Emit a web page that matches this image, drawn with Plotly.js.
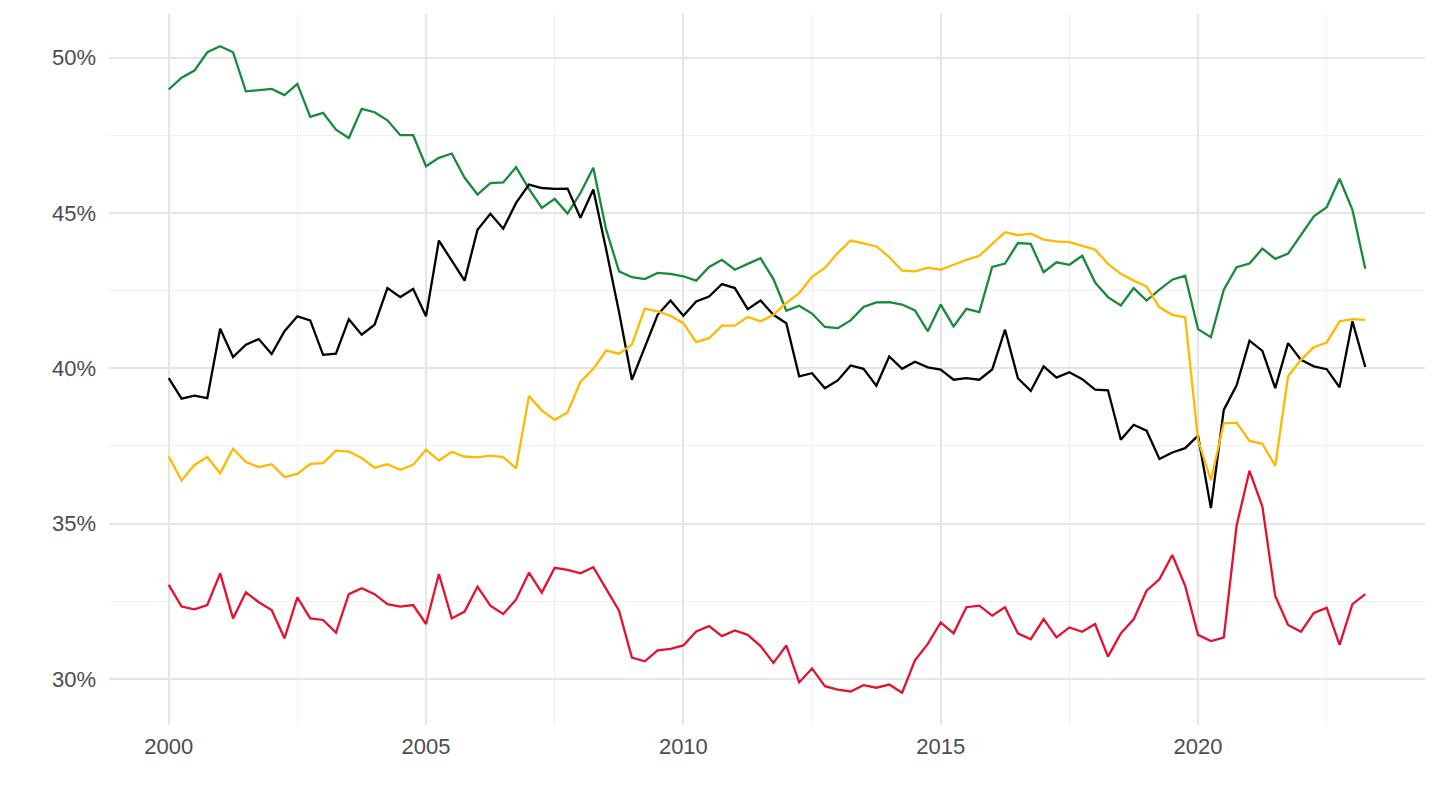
<!DOCTYPE html>
<html>
<head>
<meta charset="utf-8">
<script src="https://cdn.plot.ly/plotly-3.0.1.min.js"></script>
<style>html,body{margin:0;padding:0;background:#fff;}#chart{width:1440px;height:810px;}</style>
</head>
<body>
<div id="chart"></div>
<script>
// Quarterly observations, 2000Q1 .. 2023Q2
const startYear = 2000;
const greenSeries = [48.97, 49.35, 49.58, 50.17, 50.36, 50.17, 48.91, 48.94, 48.99, 48.79, 49.15, 48.09, 48.22, 47.68, 47.41, 48.35,
  48.24, 47.98, 47.5, 47.5, 46.5, 46.77, 46.91, 46.13, 45.59, 45.96, 45.98, 46.47, 45.77, 45.16, 45.45, 44.98, 45.64,
  46.45, 44.46, 43.12, 42.93, 42.87, 43.07, 43.04, 42.96, 42.82, 43.26, 43.49, 43.17, 43.36, 43.54, 42.87, 41.85,
  42.01, 41.76, 41.33, 41.29, 41.54, 41.97, 42.12, 42.13, 42.05, 41.86, 41.19, 42.05, 41.35, 41.91, 41.81,
  43.26, 43.37, 44.03, 44.0, 43.09, 43.41, 43.33, 43.62, 42.76, 42.29, 42.02, 42.58, 42.18, 42.53, 42.85, 42.98,
  41.26, 41.0, 42.53, 43.25, 43.37, 43.85, 43.52, 43.69, 44.3, 44.89, 45.18, 46.1, 45.1, 43.2];
const blackSeries = [39.68, 39.02, 39.12, 39.04, 41.27, 40.36, 40.76, 40.94, 40.46, 41.19, 41.67, 41.54, 40.43, 40.47, 41.58, 41.08,
  41.4, 42.58, 42.29, 42.55, 41.67, 44.11, 43.46, 42.82, 44.46, 44.97, 44.49, 45.32, 45.91, 45.8, 45.77, 45.78, 44.84,
  45.75, 43.82, 41.81, 39.63, 40.7, 41.72, 42.18, 41.69, 42.15, 42.31, 42.71, 42.58, 41.9, 42.18, 41.72, 41.45,
  39.74, 39.84, 39.36, 39.61, 40.09, 39.98, 39.44, 40.38, 39.98, 40.21, 40.03, 39.96, 39.63, 39.68, 39.63,
  39.96, 41.24, 39.68, 39.27, 40.06, 39.7, 39.87, 39.65, 39.31, 39.29, 37.7, 38.18, 37.99, 37.08, 37.29, 37.43,
  37.83, 35.5, 38.66, 39.45, 40.89, 40.56, 39.36, 40.81, 40.27, 40.06, 39.97, 39.39, 41.51, 40.04];
const yellowSeries = [37.16, 36.39, 36.89, 37.14, 36.62, 37.41, 36.98, 36.82, 36.91, 36.5, 36.6, 36.92, 36.95, 37.35, 37.32, 37.11,
  36.8, 36.91, 36.73, 36.89, 37.38, 37.03, 37.31, 37.16, 37.13, 37.19, 37.14, 36.78, 39.11, 38.64, 38.34, 38.58, 39.56,
  39.98, 40.57, 40.47, 40.76, 41.92, 41.83, 41.69, 41.45, 40.84, 40.97, 41.37, 41.37, 41.65, 41.51, 41.72, 42.1,
  42.42, 42.94, 43.23, 43.71, 44.11, 44.02, 43.92, 43.58, 43.14, 43.12, 43.24, 43.17, 43.33, 43.49, 43.62,
  44.0, 44.38, 44.28, 44.33, 44.14, 44.08, 44.06, 43.95, 43.82, 43.36, 43.04, 42.82, 42.63, 41.96, 41.72, 41.64,
  37.7, 36.4, 38.23, 38.25, 37.66, 37.57, 36.86, 39.74, 40.27, 40.68, 40.83, 41.51, 41.58, 41.56];
const redSeries = [33.03, 32.33, 32.24, 32.38, 33.4, 31.95, 32.79, 32.47, 32.22, 31.31, 32.63, 31.95, 31.9, 31.49, 32.73, 32.92,
  32.73, 32.41, 32.33, 32.38, 31.77, 33.38, 31.95, 32.17, 32.97, 32.36, 32.09, 32.56, 33.42, 32.78, 33.58, 33.51, 33.4,
  33.6, 32.9, 32.2, 30.69, 30.57, 30.92, 30.97, 31.08, 31.53, 31.7, 31.38, 31.56, 31.42, 31.06, 30.52, 31.08,
  29.89, 30.34, 29.77, 29.66, 29.6, 29.8, 29.72, 29.82, 29.56, 30.6, 31.13, 31.82, 31.47, 32.31, 32.36,
  32.04, 32.31, 31.47, 31.28, 31.93, 31.34, 31.66, 31.52, 31.77, 30.72, 31.47, 31.92, 32.84, 33.21, 33.99, 33.0,
  31.42, 31.22, 31.33, 34.94, 36.7, 35.55, 32.67, 31.74, 31.52, 32.13, 32.29, 31.1, 32.41, 32.73];
const xTickVals = [2000, 2005, 2010, 2015, 2020];
const xTickText = ['2000', '2005', '2010', '2015', '2020'];
const yTickVals = [30, 35, 40, 45, 50];
const yTickText = ['30%', '35%', '40%', '45%', '50%'];

const xs = greenSeries.map((_, i) => startYear + i * 0.25);
const mk = (y, color) => ({x: xs, y: y, type: 'scatter', mode: 'lines', line: {color: color, width: 2.3}, hoverinfo: 'x+y', showlegend: false});
const data = [
  mk(greenSeries, '#178a3c'),
  mk(blackSeries, '#000000'),
  mk(yellowSeries, '#ffb900'),
  mk(redSeries, '#e4112f')
];
const layout = {
  width: 1440, height: 810,
  margin: {l: 109, r: 15, t: 14, b: 85},
  paper_bgcolor: '#ffffff', plot_bgcolor: '#ffffff',
  font: {family: 'Liberation Sans, Arial, sans-serif', size: 22, color: '#4d4d4d'},
  xaxis: {
    range: [1998.84, 2024.41],
    tickvals: xTickVals, ticktext: xTickText,
    showgrid: true, gridcolor: '#e5e5e5', gridwidth: 2,
    minor: {tick0: 2002.5, dtick: 5, showgrid: true, gridcolor: '#f0f0f0', gridwidth: 1},
    zeroline: false, showline: false, ticks: '',
    ticklabelstandoff: 6,
    tickfont: {size: 22, color: '#4d4d4d'}
  },
  yaxis: {
    range: [28.52, 51.4],
    tickvals: yTickVals, ticktext: yTickText,
    showgrid: true, gridcolor: '#e5e5e5', gridwidth: 2,
    minor: {tick0: 32.5, dtick: 5, showgrid: true, gridcolor: '#f0f0f0', gridwidth: 1},
    zeroline: false, showline: false, ticks: '',
    ticklabelstandoff: 12,
    tickfont: {size: 22, color: '#4d4d4d'}
  }
};
Plotly.newPlot('chart', data, layout, {displayModeBar: false, staticPlot: true});
</script>
</body>
</html>
